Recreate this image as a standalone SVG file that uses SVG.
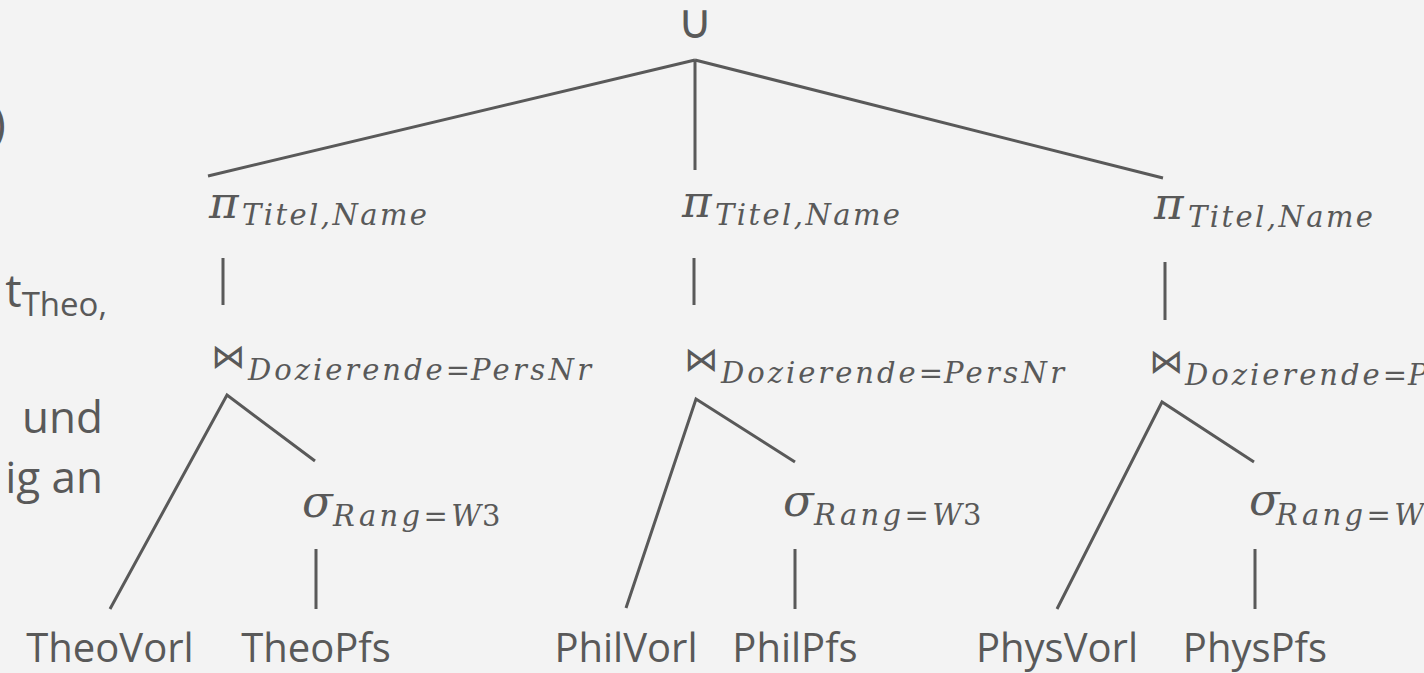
<svg xmlns="http://www.w3.org/2000/svg" width="1424" height="673" viewBox="0 0 1424 673">
<style>
.bg{fill:#f3f3f3}
.ln{stroke:#595959;stroke-width:3;fill:none;stroke-linecap:butt}
.body{font-family:"Open Sans","Liberation Sans",sans-serif;fill:#595959}
.leaf{font-family:"Open Sans","Liberation Sans",sans-serif;font-size:40px;fill:#595959;text-anchor:middle}
.op{font-family:"DejaVu Serif",serif;font-style:italic;font-size:45px;fill:#595959}
.sym{font-family:"DejaVu Sans",sans-serif;fill:#595959}
.sub{font-family:"DejaVu Serif",serif;font-style:italic;font-size:29px;fill:#595959}
.subr{font-family:"DejaVu Serif",serif;font-size:29px;fill:#595959}
</style>
<rect class="bg" x="0" y="0" width="1424" height="673"/>

<g id="slide-text">
<text class="body" x="6" y="140" font-size="48" text-anchor="end">)</text>
<text class="body" x="107" y="307" font-size="46" text-anchor="end">t<tspan font-size="33" dy="9">Theo,</tspan></text>
<text class="body" x="103" y="433" font-size="44" text-anchor="end">und</text>
<text class="body" x="103" y="493" font-size="44" text-anchor="end">ig an</text>
</g>

<g id="connectors">
<path class="ln" d="M695,60 L208,176 M695,60 L695,170 M695,60 L1163,178"/>
<path class="ln" d="M223,258 L223,305 M694,258 L694,305 M1165,262 L1165,320"/>
<path class="ln" d="M110,609 L227,395 L315,461"/>
<path class="ln" d="M626,608 L696,399 L795,462"/>
<path class="ln" d="M1057,609 L1162,402 L1254,462"/>
<path class="ln" d="M316,549 L316,609 M795,549 L795,609 M1255,549 L1255,609"/>
</g>

<g id="union"><text class="sym" x="695" y="38" font-size="48" text-anchor="middle">∪</text></g>

<g id="proj1"><text class="op" x="209" y="218">π</text><text class="sub" x="242" y="225" textLength="185" lengthAdjust="spacing">Titel,Name</text></g>
<g id="proj2"><text class="op" x="682" y="217">π</text><text class="sub" x="715" y="225" textLength="185" lengthAdjust="spacing">Titel,Name</text></g>
<g id="proj3"><text class="op" x="1154" y="219">π</text><text class="sub" x="1188" y="227" textLength="185" lengthAdjust="spacing">Titel,Name</text></g>

<g id="join1"><text class="sym" x="211" y="368" font-size="34">⋈</text><text class="sub" x="248" y="380" textLength="222" lengthAdjust="spacing">Dozierende=</text><text class="sub" x="471" y="380" textLength="120" lengthAdjust="spacing">PersNr</text></g>
<g id="join2"><text class="sym" x="684" y="371" font-size="34">⋈</text><text class="sub" x="721" y="383" textLength="222" lengthAdjust="spacing">Dozierende=</text><text class="sub" x="944" y="383" textLength="120" lengthAdjust="spacing">PersNr</text></g>
<g id="join3"><text class="sym" x="1149" y="373" font-size="34">⋈</text><text class="sub" x="1185" y="385" textLength="222" lengthAdjust="spacing">Dozierende=</text><text class="sub" x="1408" y="385" textLength="120" lengthAdjust="spacing">PersNr</text></g>

<g id="sel1"><text class="op" x="302" y="517">σ</text><text class="sub" x="333" y="526" textLength="148" lengthAdjust="spacing">Rang=W</text><text class="subr" x="482" y="526">3</text></g>
<g id="sel2"><text class="op" x="783" y="516">σ</text><text class="sub" x="814" y="525" textLength="148" lengthAdjust="spacing">Rang=W</text><text class="subr" x="963" y="525">3</text></g>
<g id="sel3"><text class="op" x="1249" y="515">σ</text><text class="sub" x="1276" y="525" textLength="148" lengthAdjust="spacing">Rang=W</text><text class="subr" x="1425" y="525">3</text></g>

<g id="theovorl"><text class="leaf" x="110" y="662">TheoVorl</text></g>
<g id="theopfs"><text class="leaf" x="316" y="662">TheoPfs</text></g>
<g id="philvorl"><text class="leaf" x="626" y="662">PhilVorl</text></g>
<g id="philpfs"><text class="leaf" x="795" y="662">PhilPfs</text></g>
<g id="physvorl"><text class="leaf" x="1057" y="662">PhysVorl</text></g>
<g id="physpfs"><text class="leaf" x="1255" y="662">PhysPfs</text></g>
</svg>
